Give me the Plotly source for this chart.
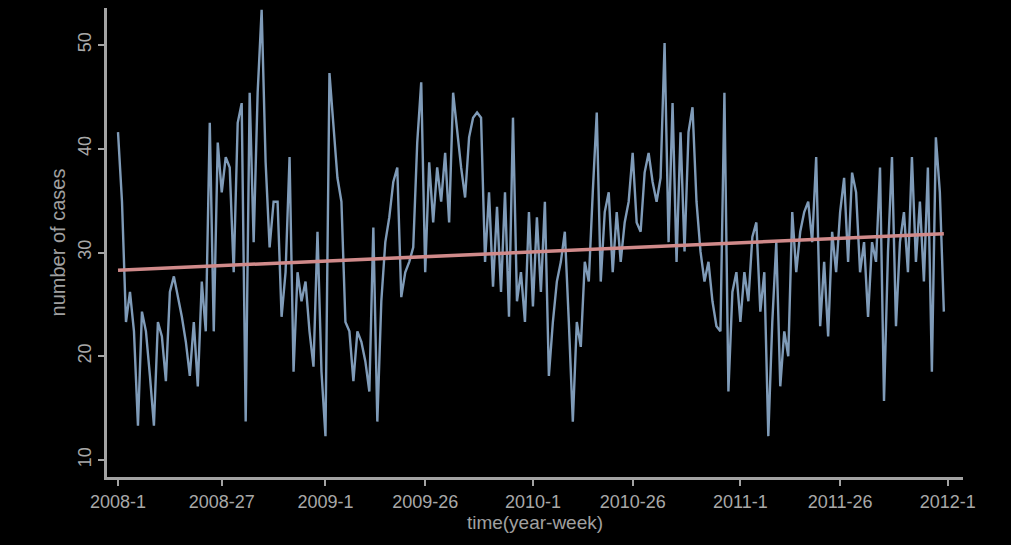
import plotly.graph_objects as go

# weekly case counts, 2008-1 .. 2011-52 (208 weeks)
cases_2008 = [41.6, 34.9, 23.3, 26.2, 22.4, 13.3, 24.3, 22.4, 18.1, 13.3, 23.3, 21.9, 17.6,
              26.2, 27.7, 25.7, 23.8, 21.4, 18.1, 23.3, 17.1, 27.2, 22.4, 42.5, 22.4, 40.6,
              35.8, 39.2, 38.2, 28.1, 42.5, 44.4, 13.7, 45.4, 31.0, 45.4, 53.4, 38.7, 30.5,
              34.9, 34.9, 23.8, 28.1, 39.2, 18.5, 28.1, 25.3, 27.2, 22.4, 19.0, 32.0, 18.5]
cases_2009 = [12.3, 47.3, 42.5, 37.2, 34.9, 23.3, 22.4, 17.6, 22.4, 21.4, 19.5, 16.6, 32.4,
              13.7, 25.3, 31.0, 33.4, 36.8, 38.2, 25.7, 28.1, 29.1, 30.5, 40.6, 46.4, 28.1,
              38.7, 32.9, 38.2, 34.9, 39.6, 32.9, 45.4, 41.6, 38.2, 35.3, 41.1, 43.0, 43.5,
              43.0, 29.1, 35.8, 26.7, 34.4, 26.2, 35.8, 23.8, 43.0, 25.3, 28.1, 23.3, 33.9]
cases_2010 = [24.8, 33.4, 26.2, 34.9, 18.1, 23.3, 27.2, 29.1, 32.0, 23.3, 13.7, 23.3, 20.9,
              29.1, 27.2, 35.8, 43.5, 27.2, 33.9, 35.8, 28.1, 33.9, 29.1, 32.9, 34.9, 39.6,
              32.9, 32.0, 37.7, 39.6, 36.8, 34.9, 37.2, 50.2, 31.0, 44.4, 29.1, 41.6, 30.1,
              41.6, 44.0, 34.9, 30.1, 27.2, 29.1, 25.3, 22.9, 22.4, 45.4, 16.6, 26.2, 28.1]
cases_2011 = [23.3, 28.1, 25.3, 31.5, 32.9, 24.3, 28.1, 12.3, 23.3, 31.0, 17.1, 22.4, 20.0,
              33.9, 28.1, 32.0, 33.9, 34.9, 31.0, 39.2, 22.9, 29.1, 21.9, 32.0, 28.1, 33.9,
              37.2, 29.1, 37.7, 35.8, 28.1, 31.0, 23.8, 31.0, 29.1, 38.2, 15.7, 30.1, 39.2,
              22.9, 31.0, 33.9, 28.1, 39.2, 29.1, 34.9, 27.2, 38.2, 18.5, 41.1, 35.8, 24.3]
cases = cases_2008 + cases_2009 + cases_2010 + cases_2011
weeks = list(range(len(cases)))

# linear trend (start / end value)
trend_x = [0, len(cases) - 1]
trend_y = [28.3, 31.8]

tick_vals = [0, 26, 52, 77, 104, 129, 156, 181, 208]
tick_text = ["2008-1", "2008-27", "2009-1", "2009-26", "2010-1", "2010-26",
             "2011-1", "2011-26", "2012-1"]
y_ticks = [10, 20, 30, 40, 50]

axis_col = "#a3a3a3"
label_col = "#a8a8a8"
font = dict(family="Liberation Sans, Arial, sans-serif", color=label_col, size=17)

fig = go.Figure()
fig.add_trace(go.Scatter(x=weeks, y=cases, mode="lines",
                         line=dict(color="#7f9bb8", width=2.4), showlegend=False))
fig.add_trace(go.Scatter(x=trend_x, y=trend_y, mode="lines",
                         line=dict(color="#d08a8a", width=3.5), showlegend=False))

fig.update_layout(
    width=1011, height=545,
    margin=dict(l=107, r=48, t=8, b=68),
    paper_bgcolor="black", plot_bgcolor="black",
    font=font,
    xaxis=dict(range=[-2.76, 211.8], tickvals=tick_vals, ticktext=tick_text,
               showgrid=False, zeroline=False, showline=True, linecolor=axis_col,
               linewidth=3, ticks="outside", tickcolor=axis_col, ticklen=6, tickwidth=2,
               tickfont=dict(size=18, color=label_col),
               title=dict(text="time(year-week)", font=dict(size=19, color="#a0a0a0"),
                          standoff=2)),
    yaxis=dict(range=[8.36, 53.57], tickvals=y_ticks, tickangle=-90,
               showgrid=False, zeroline=False, showline=True, linecolor=axis_col,
               linewidth=3, ticks="outside", tickcolor=axis_col, ticklen=6, tickwidth=2,
               tickfont=dict(size=18, color=label_col),
               title=dict(text="number of cases", font=dict(size=20, color="#a0a0a0"),
                          standoff=4)),
)

fig.write_html("out.html")
